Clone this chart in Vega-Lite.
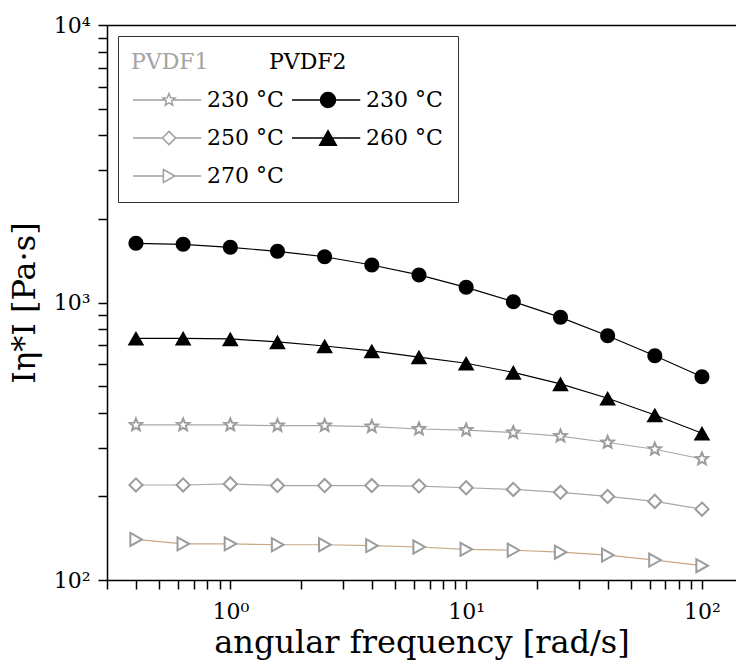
{
  "$schema": "https://vega.github.io/schema/vega-lite/v6.json",
  "width": 629,
  "height": 555,
  "autosize": {"type": "none"},
  "padding": {"left": 107, "top": 25, "right": 0, "bottom": 85},
  "background": "white",
  "config": {
    "view": {"stroke": null},
    "font": "DejaVu Serif",
    "axis": {"domainColor": "black", "domainWidth": 1.5, "tickColor": "black", "tickWidth": 1.5, "labelColor": "black", "titleColor": "black", "labelFont": "DejaVu Serif", "titleFont": "DejaVu Serif", "titleFontWeight": "normal", "grid": false, "labelFontSize": 22, "titleFontSize": 32}
  },
  "data": {"values": [
    {"s": "PVDF1 230 °C", "f": 0.398, "v": 362}, {"s": "PVDF1 230 °C", "f": 0.631, "v": 362}, {"s": "PVDF1 230 °C", "f": 1, "v": 362}, {"s": "PVDF1 230 °C", "f": 1.585, "v": 360}, {"s": "PVDF1 230 °C", "f": 2.512, "v": 360}, {"s": "PVDF1 230 °C", "f": 3.981, "v": 357}, {"s": "PVDF1 230 °C", "f": 6.31, "v": 350}, {"s": "PVDF1 230 °C", "f": 10, "v": 347}, {"s": "PVDF1 230 °C", "f": 15.85, "v": 340}, {"s": "PVDF1 230 °C", "f": 25.12, "v": 330}, {"s": "PVDF1 230 °C", "f": 39.81, "v": 313}, {"s": "PVDF1 230 °C", "f": 63.1, "v": 296}, {"s": "PVDF1 230 °C", "f": 100, "v": 273},
    {"s": "PVDF1 250 °C", "f": 0.398, "v": 220}, {"s": "PVDF1 250 °C", "f": 0.631, "v": 220}, {"s": "PVDF1 250 °C", "f": 1, "v": 222}, {"s": "PVDF1 250 °C", "f": 1.585, "v": 219}, {"s": "PVDF1 250 °C", "f": 2.512, "v": 219}, {"s": "PVDF1 250 °C", "f": 3.981, "v": 219}, {"s": "PVDF1 250 °C", "f": 6.31, "v": 218}, {"s": "PVDF1 250 °C", "f": 10, "v": 215}, {"s": "PVDF1 250 °C", "f": 15.85, "v": 212}, {"s": "PVDF1 250 °C", "f": 25.12, "v": 207}, {"s": "PVDF1 250 °C", "f": 39.81, "v": 200}, {"s": "PVDF1 250 °C", "f": 63.1, "v": 192}, {"s": "PVDF1 250 °C", "f": 100, "v": 180},
    {"s": "PVDF1 270 °C", "f": 0.398, "v": 140}, {"s": "PVDF1 270 °C", "f": 0.631, "v": 135}, {"s": "PVDF1 270 °C", "f": 1, "v": 135}, {"s": "PVDF1 270 °C", "f": 1.585, "v": 134}, {"s": "PVDF1 270 °C", "f": 2.512, "v": 134}, {"s": "PVDF1 270 °C", "f": 3.981, "v": 133}, {"s": "PVDF1 270 °C", "f": 6.31, "v": 131.5}, {"s": "PVDF1 270 °C", "f": 10, "v": 129}, {"s": "PVDF1 270 °C", "f": 15.85, "v": 128}, {"s": "PVDF1 270 °C", "f": 25.12, "v": 126}, {"s": "PVDF1 270 °C", "f": 39.81, "v": 123}, {"s": "PVDF1 270 °C", "f": 63.1, "v": 118}, {"s": "PVDF1 270 °C", "f": 100, "v": 112.6},
    {"s": "PVDF2 230 °C", "f": 0.398, "v": 1634}, {"s": "PVDF2 230 °C", "f": 0.631, "v": 1621}, {"s": "PVDF2 230 °C", "f": 1, "v": 1581}, {"s": "PVDF2 230 °C", "f": 1.585, "v": 1529}, {"s": "PVDF2 230 °C", "f": 2.512, "v": 1462}, {"s": "PVDF2 230 °C", "f": 3.981, "v": 1365}, {"s": "PVDF2 230 °C", "f": 6.31, "v": 1257}, {"s": "PVDF2 230 °C", "f": 10, "v": 1134}, {"s": "PVDF2 230 °C", "f": 15.85, "v": 1007}, {"s": "PVDF2 230 °C", "f": 25.12, "v": 884}, {"s": "PVDF2 230 °C", "f": 39.81, "v": 759}, {"s": "PVDF2 230 °C", "f": 63.1, "v": 643}, {"s": "PVDF2 230 °C", "f": 100, "v": 540},
    {"s": "PVDF2 260 °C", "f": 0.398, "v": 743}, {"s": "PVDF2 260 °C", "f": 0.631, "v": 743}, {"s": "PVDF2 260 °C", "f": 1, "v": 739}, {"s": "PVDF2 260 °C", "f": 1.585, "v": 721}, {"s": "PVDF2 260 °C", "f": 2.512, "v": 697}, {"s": "PVDF2 260 °C", "f": 3.981, "v": 669}, {"s": "PVDF2 260 °C", "f": 6.31, "v": 636}, {"s": "PVDF2 260 °C", "f": 10, "v": 604}, {"s": "PVDF2 260 °C", "f": 15.85, "v": 560}, {"s": "PVDF2 260 °C", "f": 25.12, "v": 509}, {"s": "PVDF2 260 °C", "f": 39.81, "v": 452}, {"s": "PVDF2 260 °C", "f": 63.1, "v": 393}, {"s": "PVDF2 260 °C", "f": 100, "v": 338}
  ]},
  "layer": [
    {
      "mark": {"type": "line", "strokeWidth": 1.2},
      "encoding": {
        "x": {"field": "f", "type": "quantitative", "scale": {"type": "log", "domain": [0.3, 139.4], "nice": false, "zero": false},
          "axis": {"title": "angular frequency [rad/s]", "values": [0.3,0.4,0.5,0.6,0.7,0.8,0.9,1,2,3,4,5,6,7,8,9,10,20,30,40,50,60,70,80,90,100],
            "labelExpr": "datum.value == 1 ? '10⁰' : datum.value == 10 ? '10¹' : datum.value == 100 ? '10²' : ''",
            "tickSize": 9, "labelPadding": 12, "labelOverlap": false, "labelFlush": false, "titlePadding": 5,
            "encode": {"ticks": {"y2": {"value": {"expr": "indexof([1,10,100], datum.value) >= 0 ? 9 : 5"}}}}}},
        "y": {"field": "v", "type": "quantitative", "scale": {"type": "log", "domain": [100, 10000], "nice": false, "zero": false},
          "axis": {"title": "Iη*I [Pa·s]", "values": [100,200,300,400,500,600,700,800,900,1000,2000,3000,4000,5000,6000,7000,8000,9000,10000],
            "labelExpr": "datum.value == 100 ? '10²' : datum.value == 1000 ? '10³' : datum.value == 10000 ? '10⁴' : ''",
            "tickSize": 9, "labelPadding": 8, "labelOverlap": false, "labelFlush": false, "titlePadding": 12,
            "encode": {"ticks": {"x2": {"value": {"expr": "indexof([100,1000,10000], datum.value) >= 0 ? -9 : -5"}}}}}},
        "color": {"field": "s", "type": "nominal",
          "scale": {"domain": ["PVDF1 230 °C", "PVDF1 250 °C", "PVDF1 270 °C", "PVDF2 230 °C", "PVDF2 260 °C"], "range": ["#a8a8a8", "#a8a8a8", "#c9a886", "#000000", "#000000"]},
          "legend": null}
      }
    },
    {
      "mark": {"type": "point", "opacity": 1, "strokeWidth": 2, "size": 225},
      "encoding": {
        "x": {"field": "f", "type": "quantitative", "axis": {"orient": "top", "labels": false, "ticks": false, "title": null}},
        "y": {"field": "v", "type": "quantitative", "axis": null},
        "shape": {"field": "s", "type": "nominal",
          "scale": {"domain": ["PVDF1 230 °C", "PVDF1 250 °C", "PVDF1 270 °C", "PVDF2 230 °C", "PVDF2 260 °C"],
            "range": ["M0,-0.86L0.223,-0.307L0.818,-0.266L0.361,0.117L0.506,0.696L0,0.38L-0.506,0.696L-0.361,0.117L-0.818,-0.266L-0.223,-0.307Z",
              "M0,-0.88L0.88,0L0,0.88L-0.88,0Z",
              "M-0.75,-0.87L0.8,0L-0.75,0.87Z",
              "M-1,0A1,1,0,1,0,1,0A1,1,0,1,0,-1,0Z",
              "M0,-0.97L1.11,0.97L-1.11,0.97Z"]},
          "legend": null},
        "fill": {"field": "s", "type": "nominal",
          "scale": {"domain": ["PVDF1 230 °C", "PVDF1 250 °C", "PVDF1 270 °C", "PVDF2 230 °C", "PVDF2 260 °C"], "range": ["white", "white", "white", "black", "black"]},
          "legend": null},
        "stroke": {"field": "s", "type": "nominal",
          "scale": {"domain": ["PVDF1 230 °C", "PVDF1 250 °C", "PVDF1 270 °C", "PVDF2 230 °C", "PVDF2 260 °C"], "range": ["#9c9c9c", "#9c9c9c", "#9c9c9c", "transparent", "transparent"]},
          "legend": null}
      }
    },
    {
      "transform": [{"filter": "false"}],
      "mark": {"type": "point", "opacity": 1, "size": 225},
      "encoding": {
        "x": {"field": "f", "type": "quantitative", "axis": null},
        "y": {"field": "v", "type": "quantitative", "axis": null},
        "shape": {"field": "s", "type": "nominal",
          "scale": {"domain": ["PVDF1", "PVDF1 230 °C", "PVDF1 250 °C", "PVDF1 270 °C", "PVDF2", "PVDF2 230 °C", "PVDF2 260 °C"],
            "range": ["M-1,0A1,1,0,1,0,1,0A1,1,0,1,0,-1,0Z",
              "M-4.8,0H-0.5M0.5,0H4.3M0,-0.86L0.223,-0.307L0.818,-0.266L0.361,0.117L0.506,0.696L0,0.38L-0.506,0.696L-0.361,0.117L-0.818,-0.266L-0.223,-0.307Z",
              "M-4.8,0H-0.88M0.88,0H4.3M0,-0.88L0.88,0L0,0.88L-0.88,0Z",
              "M-4.8,0H-0.75M0.8,0H4.3M-0.75,-0.87L0.8,0L-0.75,0.87Z",
              "M-1,0A1,1,0,1,0,1,0A1,1,0,1,0,-1,0Z",
              "M-4.8,0H4.3M-1,0A1,1,0,1,0,1,0A1,1,0,1,0,-1,0Z",
              "M-4.8,0H4.3M0,-0.97L1.11,0.97L-1.11,0.97Z"]},
          "legend": {"title": null, "orient": "none", "legendX": 11, "legendY": 11, "columns": 2, "columnPadding": -15, "rowPadding": 16, "padding": 15,
            "strokeColor": "#333333", "fillColor": "white", "symbolSize": 225, "symbolStrokeWidth": 1.5, "symbolOffset": 25,
            "labelOffset": {"expr": "datum.value === 'PVDF1' ? -49 : datum.value === 'PVDF2' ? -70 : 27"},
            "labelColor": {"expr": "datum.value === 'PVDF1' ? '#a3a3a3' : 'black'"},
            "labelFont": "DejaVu Serif", "labelFontSize": 22, "labelLimit": 0,
            "labelExpr": "length(datum.label) > 6 ? slice(datum.label, 6) : datum.label"}},
        "fill": {"field": "s", "type": "nominal",
          "scale": {"domain": ["PVDF1", "PVDF1 230 °C", "PVDF1 250 °C", "PVDF1 270 °C", "PVDF2", "PVDF2 230 °C", "PVDF2 260 °C"],
            "range": ["transparent", "white", "white", "white", "transparent", "black", "black"]}},
        "stroke": {"field": "s", "type": "nominal",
          "scale": {"domain": ["PVDF1", "PVDF1 230 °C", "PVDF1 250 °C", "PVDF1 270 °C", "PVDF2", "PVDF2 230 °C", "PVDF2 260 °C"],
            "range": ["transparent", "#a0a0a0", "#a0a0a0", "#a0a0a0", "transparent", "black", "black"]}}
      }
    }
  ],
  "resolve": {"scale": {"shape": "independent", "fill": "independent", "stroke": "independent"}, "axis": {"x": "independent", "y": "independent"}}
}
